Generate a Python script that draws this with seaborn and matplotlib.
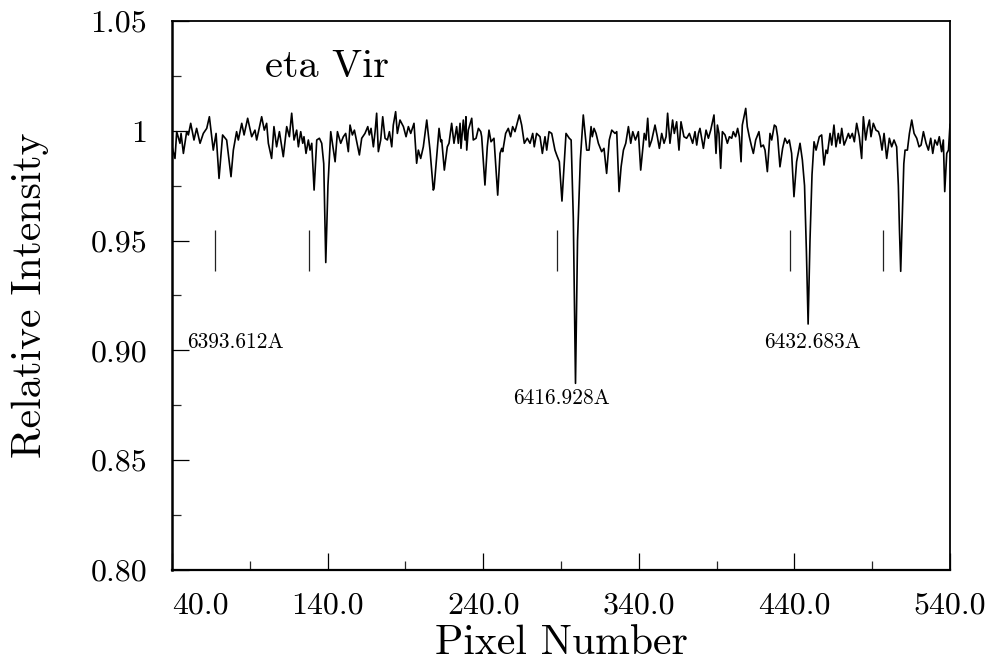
import numpy as np
import matplotlib
matplotlib.use("Agg")
import matplotlib.pyplot as plt
from matplotlib.ticker import FixedLocator, FixedFormatter
import seaborn as sns

# spectrum of eta Vir (pixel number, relative intensity)
pix_a = [40, 41.9, 43, 45.1, 45.8, 47.3, 49.4, 50.5, 52, 54.1, 55.8, 58, 60.1, 62.3, 64,
         66.5, 68.3, 70.2, 72.5, 75.1, 77.9, 79.4, 81.5, 82.6, 84.8, 86.3, 88.6, 91.2, 93.3,
         94.4, 97.6, 99.3, 100.8, 101.9, 104, 105.5, 107.2, 109, 111.5, 113.7, 115.4, 116.9,
         118.4, 120.1, 121.2]
int_a = [0.9927, 0.9874, 0.9996, 0.9943, 0.9988, 0.9897, 0.9996, 0.9981, 1.0034, 0.9958,
         1.0011, 0.9943, 0.9988, 1.0011, 1.0064, 0.9912, 0.9988, 0.9783, 0.9981, 0.9958,
         0.9791, 0.9912, 0.9996, 0.9958, 1.0034, 0.9981, 1.0057, 0.9973, 1.0003, 0.9958,
         1.0064, 1.0003, 1.0034, 0.9943, 0.9874, 1.0019, 0.9927, 0.9996, 0.9882, 1.0019,
         0.9973, 1.0080, 0.9958, 1.0003, 0.9927]

pix_b = [122.7, 124, 124.8, 126.1, 127.6, 128.7, 129.8, 131.3, 133, 134.7, 136.2, 137.5,
         138.8, 140.2, 142, 144.8, 146.3, 148.4, 150.1, 151.6, 153.3, 154.4, 155.9, 157.2,
         158.7, 160.4, 161.9, 164, 165.8, 166.8, 167.9, 169.4, 170.5, 171.5, 172.6, 174.1,
         175.4, 176.9, 178.4, 179.7, 181.2, 182.2, 183.7, 184.8, 186.5, 188.7, 190.4, 191.9,
         193.4, 195.5, 197.2, 198.3, 199.8, 201.5, 203.7, 205.8]
int_b = [0.9996, 0.9943, 0.9973, 0.9897, 0.9958, 0.9912, 0.9943, 0.9730, 0.9958, 0.9966,
         0.9943, 0.9850, 0.9400, 0.9750, 0.9996, 0.9859, 0.9996, 0.9943, 0.9973, 0.9988,
         0.9905, 1.0026, 0.9981, 1.0003, 0.9950, 0.9890, 0.9966, 0.9988, 1.0019, 0.9981,
         1.0011, 0.9927, 0.9996, 1.0080, 0.9905, 0.9958, 1.0064, 0.9966, 0.9958, 0.9996,
         0.9927, 1.0026, 1.0087, 0.9988, 1.0049, 1.0019, 0.9973, 1.0019, 0.9988, 1.0034,
         0.9852, 0.9912, 0.9874, 0.9927, 1.0049, 0.9912]

pix_c = [207.9, 208.4, 211.6, 212.7, 213.3, 215, 216.9, 218, 219.7, 221.2, 222.9, 224,
         225.1, 225.7, 227.2, 228.3, 228.9, 229.4, 230.4, 232.6, 233.6, 235.4, 236.9, 238.4,
         239, 241.1, 242.6, 243.7, 245, 246.9, 249.3, 250.8, 251.9, 252.5, 254.4, 256.1,
         257.6, 258.9, 260.4, 263.2, 264.7, 266.4, 268.3, 270.1, 271.8, 272.8, 274.3, 276.5,
         278, 279.7, 280.8, 282.3, 284, 286.1, 287.2, 288.9]
int_c = [0.9730, 0.9738, 1.0011, 0.9950, 0.9958, 0.9821, 0.9927, 0.9943, 1.0034, 0.9943,
         1.0019, 0.9943, 1.0034, 0.9920, 1.0049, 0.9958, 1.0064, 0.9912, 1.0003, 1.0057,
         0.9958, 0.9966, 1.0011, 0.9996, 0.9973, 0.9753, 0.9927, 1.0003, 0.9950, 0.9966,
         0.9707, 0.9897, 0.9920, 0.9905, 0.9988, 1.0011, 0.9973, 1.0019, 0.9996, 1.0072,
         1.0026, 0.9943, 0.9966, 0.9943, 0.9988, 0.9927, 0.9988, 0.9973, 0.9897, 0.9973,
         0.9912, 0.9996, 0.9988, 0.9912, 0.9890, 0.9859]

pix_d = [290.6, 293.2, 295.3, 296.5, 297.9, 299.3, 300.6, 302.4, 304.3, 306.5, 308, 309.3,
         310.1, 311.2, 312.5, 314, 316.1, 317.6, 319.3, 321, 322.6, 324.7, 325.8, 327.3,
         328.6, 330.1, 331.6, 333.3, 334.8, 336.1, 337.8, 338.6, 339.7, 341.2, 343.5, 344.6,
         345.7, 346.8, 348.3, 350.4, 351.9, 353.2, 354.7, 356.2, 357.5, 358.5, 360, 361.7,
         362.8, 364.3, 365.8, 367.1, 369, 370.7, 372.5]
int_d = [0.9680, 0.9988, 0.9966, 0.9958, 0.9600, 0.8850, 0.9500, 0.9867, 1.0072, 0.9912,
         0.9912, 1.0019, 0.9973, 1.0011, 0.9988, 0.9943, 0.9905, 0.9920, 0.9806, 0.9958,
         1.0003, 0.9988, 0.9996, 0.9723, 0.9836, 0.9912, 0.9943, 1.0019, 0.9943, 0.9996,
         0.9958, 0.9973, 0.9996, 0.9821, 0.9988, 0.9958, 1.0057, 0.9927, 0.9958, 1.0026,
         0.9973, 0.9920, 0.9988, 0.9943, 0.9973, 1.0080, 0.9943, 1.0049, 0.9988, 1.0041,
         0.9912, 1.0041, 0.9973, 0.9966, 0.9988]

pix_e = [374.6, 376.1, 377.2, 378.3, 379.3, 381.5, 383.2, 384.7, 386.2, 388.3, 389.6, 390.5,
         391.5, 392.6, 393.7, 395.4, 396.9, 398.2, 399.7, 400.7, 402.2, 403.5, 404.6, 405.7,
         406.5, 407.6, 408.7, 409.7, 411, 412.5, 413.6, 415.1, 417.2, 418.5, 420, 421.1,
         422.6, 424.3, 425.4, 427.1, 428.2, 429.2, 430.7, 432.4, 433.9, 435.4, 436.7, 438.2,
         439.7, 441.4, 443.6, 445.1, 446.5, 447.7, 448.8, 450, 451.3, 452.6, 453.9, 456]
int_e = [0.9943, 0.9996, 0.9935, 0.9988, 1.0011, 0.9920, 1.0003, 0.9966, 1.0003, 1.0072,
         0.9897, 1.0026, 0.9988, 0.9829, 0.9996, 0.9981, 0.9943, 0.9973, 0.9966, 0.9996,
         0.9973, 1.0011, 0.9973, 0.9859, 1.0026, 1.0064, 1.0102, 1.0019, 0.9973, 0.9927,
         0.9897, 0.9958, 0.9996, 0.9927, 0.9935, 0.9912, 0.9814, 0.9988, 0.9958, 1.0026,
         1.0019, 0.9973, 0.9836, 0.9920, 0.9966, 0.9943, 0.9958, 0.9897, 0.9700, 0.9859,
         0.9943, 0.9867, 0.9750, 0.9450, 0.9120, 0.9500, 0.9800, 0.9950, 0.9912, 0.9973]

pix_f = [457.5, 459, 460.3, 461.2, 462.9, 464, 465.4, 466.7, 468.2, 469.3, 470.4, 471.9,
         473.2, 474.7, 475.7, 477.2, 478.5, 480, 481.7, 483.2, 484.3, 485.8, 486.9, 488.2,
         489.2, 490.7, 492.4, 494, 495, 496.3, 497.6, 499.3, 501, 502.5, 504, 505.7, 506.8,
         507.5, 508.3, 509.3, 510.3, 511.1, 512.6, 513.9, 515.4, 516.9, 518.6, 520.1, 521.4,
         522.9, 524.6, 526.1, 527.6, 528.9, 530.3, 531.8, 533.1, 534.6, 535.7, 536.6, 537.9,
         539, 540]
int_f = [0.9981, 0.9844, 0.9912, 0.9897, 0.9988, 0.9935, 1.0026, 0.9927, 0.9988, 0.9943,
         1.0011, 0.9935, 0.9958, 0.9988, 0.9966, 0.9988, 0.9950, 1.0034, 0.9973, 0.9874,
         1.0064, 0.9958, 1.0011, 1.0049, 0.9973, 1.0034, 1.0003, 0.9996, 0.9973, 0.9912,
         0.9988, 0.9874, 0.9966, 0.9927, 0.9958, 0.9927, 0.9750, 0.9550, 0.9360, 0.9600,
         0.9850, 0.9912, 0.9912, 0.9988, 1.0049, 0.9988, 0.9966, 0.9927, 0.9935, 0.9996,
         0.9943, 0.9912, 0.9966, 0.9897, 0.9958, 0.9935, 0.9973, 0.9905, 0.9958, 0.9723,
         0.9897, 0.9912, 1.0030]

# line identification marks and labels
mark_pix = [67.6, 128.0, 287.4, 437.2, 497.0]
mark_lo, mark_hi = 0.936, 0.955
line_labels = ["6393.612A", "6416.928A", "6432.683A"]
label_pix = [49.6, 290.6, 451.3]
label_int = [0.9035, 0.878, 0.9035]

x_ticks = [40, 140, 240, 340, 440, 540]
x_ticklabels = ["40.0", "140.0", "240.0", "340.0", "440.0", "540.0"]
y_ticks = [0.80, 0.85, 0.90, 0.95, 1.00, 1.05]
y_ticklabels = ["0.80", "0.85", "0.90", "0.95", "1", "1.05"]

pixel = np.concatenate([pix_a, pix_b, pix_c, pix_d, pix_e, pix_f])
intensity = np.concatenate([int_a, int_b, int_c, int_d, int_e, int_f])

sns.set_theme(style="white")
plt.rcParams['font.family'] = ['cmr10', 'DejaVu Serif']
plt.rcParams['axes.unicode_minus'] = False

fig = plt.figure(figsize=(9.95, 6.62), dpi=100)
ax = fig.add_axes([0.1729, 0.139, 0.7819, 0.8293])

sns.lineplot(x=pixel, y=intensity, ax=ax, color='black', linewidth=1.2,
             estimator=None, sort=False)
ax.vlines(mark_pix, mark_lo, mark_hi, color='#222222', linewidth=0.9)

for txt, px, iy, ha in zip(line_labels, label_pix, label_int, ['left', 'center', 'center']):
    ax.text(px, iy, txt, ha=ha, va='center', fontsize=15.5, color='black')

ax.text(99.8, 1.0245, "eta Vir", ha='left', va='baseline', fontsize=29, color='black')

ax.set_xlim(40, 540)
ax.set_ylim(0.80, 1.05)

ax.xaxis.set_major_locator(FixedLocator(x_ticks))
ax.xaxis.set_major_formatter(FixedFormatter(x_ticklabels))
ax.xaxis.set_minor_locator(FixedLocator([90, 190, 290, 390, 490]))
ax.yaxis.set_major_locator(FixedLocator(y_ticks))
ax.yaxis.set_major_formatter(FixedFormatter(y_ticklabels))
ax.yaxis.set_minor_locator(FixedLocator([0.825, 0.875, 0.925, 0.975, 1.025]))

ax.tick_params(axis='both', which='major', direction='in', length=12, width=0.9,
               labelsize=23, colors='black')
ax.tick_params(axis='both', which='minor', direction='in', length=6.5, width=0.9)
ax.tick_params(axis='x', which='major', pad=16)
ax.tick_params(axis='y', which='major', pad=18)
ax.tick_params(left=True, bottom=True, which='both')

xl = ax.get_xticklabels()
xl[0].set_horizontalalignment('left')

for side in ['left', 'bottom', 'top', 'right']:
    ax.spines[side].set_color('black')
    ax.spines[side].set_linewidth(1.3)
ax.spines['left'].set_linewidth(1.8)
ax.spines['bottom'].set_linewidth(1.6)

ax.set_xlabel("Pixel Number", fontsize=30, color='black')
ax.set_ylabel("Relative Intensity", fontsize=30, color='black')
ax.xaxis.set_label_coords(0.5, -0.1)
ax.yaxis.set_label_coords(-0.158, 0.5)
ax.grid(False)

fig.savefig("out.png", dpi=100)
